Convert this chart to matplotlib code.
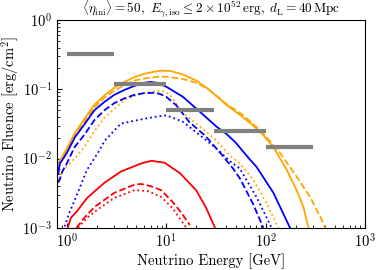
import matplotlib
matplotlib.use("Agg")
import matplotlib.pyplot as plt

plt.rcParams['font.family'] = 'serif'
plt.rcParams['font.serif'] = ['cmr10', 'DejaVu Serif']
plt.rcParams['mathtext.fontset'] = 'cm'
plt.rcParams['axes.formatter.use_mathtext'] = True

# Gray horizontal segments (energy bin edges, fluence)
bar_lo = [1, 3, 10, 30, 100]
bar_hi = [3, 10, 30, 100, 300]
bar_val = [0.32, 0.12, 0.05, 0.025, 0.0148]

# Orange series
os_E = [0.82, 0.85, 0.9, 1.0, 1.2, 1.5, 1.9, 2.4, 3.0, 3.8, 4.8, 6.0, 7.7, 9.0, 11, 14.7, 20, 25.7, 32, 40.7, 55, 69, 88, 119, 163, 205, 240, 270]
os_F = [0.0068, 0.0095, 0.0105, 0.014, 0.023, 0.037, 0.060, 0.082, 0.105, 0.128, 0.150, 0.167, 0.180, 0.186, 0.184, 0.163, 0.134, 0.104, 0.080, 0.059, 0.043, 0.033, 0.0245, 0.0149, 0.0069, 0.0035, 0.0020, 0.001]
od_E = [0.82, 0.85, 0.9, 1.0, 1.2, 1.5, 1.9, 2.4, 3.0, 3.8, 4.8, 6.8, 8.5, 10, 14.7, 20, 25.7, 40, 60, 95, 140, 205, 280, 355, 397]
od_F = [0.006, 0.0085, 0.0098, 0.013, 0.021, 0.034, 0.055, 0.076, 0.095, 0.115, 0.134, 0.147, 0.152, 0.152, 0.141, 0.124, 0.104, 0.062, 0.042, 0.023, 0.012, 0.0055, 0.0028, 0.00145, 0.001]
ot_E = [0.82, 0.9, 1.0, 1.2, 1.5, 1.9, 2.4, 3.0, 3.8, 4.8, 6.1, 7.5, 9.0, 10.8, 12.6, 14.7, 20, 30, 44, 55, 75, 100, 134]
ot_F = [0.005, 0.0065, 0.0078, 0.010, 0.0147, 0.025, 0.039, 0.052, 0.070, 0.080, 0.089, 0.093, 0.096, 0.085, 0.062, 0.046, 0.032, 0.020, 0.011, 0.0085, 0.0050, 0.0024, 0.001]

# Blue series
bs_E = [0.82, 0.85, 0.9, 1.0, 1.2, 1.5, 1.9, 2.4, 3.0, 3.8, 4.8, 6.0, 7.0, 8.0, 10, 14.7, 21.6, 32, 40, 50, 69, 81, 120, 176]
bs_F = [0.006, 0.0085, 0.0095, 0.012, 0.020, 0.031, 0.050, 0.066, 0.083, 0.098, 0.112, 0.124, 0.128, 0.124, 0.109, 0.078, 0.048, 0.029, 0.023, 0.017, 0.0098, 0.0076, 0.0032, 0.001]
bd_E = [0.82, 0.85, 0.9, 1.0, 1.2, 1.5, 1.9, 2.4, 3.0, 3.8, 4.8, 6.0, 7.7, 8.6, 10, 12.6, 17, 25, 37, 47, 55, 75, 95]
bd_F = [0.0045, 0.005, 0.0065, 0.0085, 0.0147, 0.022, 0.036, 0.050, 0.063, 0.074, 0.083, 0.088, 0.089, 0.086, 0.078, 0.059, 0.034, 0.021, 0.011, 0.0072, 0.0052, 0.0022, 0.001]
bt_E = [0.92, 1.05, 1.2, 1.5, 1.6, 2.05, 2.4, 3.5, 5.2, 7.7, 10, 11, 14.7, 21.6, 32, 44, 55, 81, 115]
bt_F = [0.0009, 0.0016, 0.0025, 0.0055, 0.0069, 0.012, 0.018, 0.032, 0.036, 0.040, 0.042, 0.040, 0.034, 0.022, 0.014, 0.0091, 0.0072, 0.0028, 0.001]

# Red series
rs_E = [1.02, 1.1, 1.25, 1.6, 2.4, 3.5, 5.6, 7.1, 9.7, 11.7, 13.7, 20, 25, 31]
rs_F = [0.001, 0.0014, 0.0017, 0.0027, 0.0045, 0.0065, 0.0085, 0.0093, 0.0087, 0.0072, 0.0062, 0.0035, 0.0020, 0.001]
rd_E = [1.25, 1.5, 1.9, 3.0, 4.8, 5.6, 7.0, 8.9, 11.5, 14, 17.3]
rd_F = [0.001, 0.0014, 0.002, 0.0032, 0.0042, 0.0043, 0.0040, 0.0035, 0.0024, 0.0017, 0.0011]
rt_E = [1.3, 1.6, 2.0, 3.0, 4.8, 6.5, 8.9, 11.7, 14, 16]
rt_F = [0.001, 0.0014, 0.0018, 0.0027, 0.0035, 0.0034, 0.0028, 0.0019, 0.0013, 0.001]

fig = plt.figure(figsize=(3.81, 2.70), dpi=100)
ax = fig.add_axes([0.150, 0.156, 0.808, 0.770])

lw = 1.3
ax.plot(os_E, os_F, color='orange', ls='-', lw=lw)
ax.plot(od_E, od_F, color='orange', ls='--', lw=lw)
ax.plot(ot_E, ot_F, color='orange', ls=':', lw=lw)
ax.plot(bs_E, bs_F, color='blue', ls='-', lw=lw)
ax.plot(bd_E, bd_F, color='blue', ls='--', lw=lw)
ax.plot(bt_E, bt_F, color='blue', ls=':', lw=lw)
ax.plot(rs_E, rs_F, color='red', ls='-', lw=lw)
ax.plot(rd_E, rd_F, color='red', ls='--', lw=lw)
ax.plot(rt_E, rt_F, color='red', ls=':', lw=lw)

ax.hlines(bar_val, bar_lo, bar_hi, colors='gray', lw=3)

ax.set_xscale('log')
ax.set_yscale('log')
ax.set_xlim(0.8, 1000)
ax.set_ylim(1e-3, 1)
ax.tick_params(which='both', direction='in', labelsize=10.5)
ax.set_xlabel('Neutrino Energy [GeV]', fontsize=10.5, labelpad=2)
ax.set_ylabel(r'Neutrino Fluence [erg/cm$^2$]', fontsize=10.5, labelpad=1)
ax.set_title(r'$\langle\eta_{\rm ini}\rangle = 50,\ E_{\gamma,{\rm iso}} \leq 2\times10^{52}\,{\rm erg},\ d_{\rm L} = 40\,{\rm Mpc}$',
             fontsize=9.5, pad=3)

fig.savefig('out.png', dpi=100)
